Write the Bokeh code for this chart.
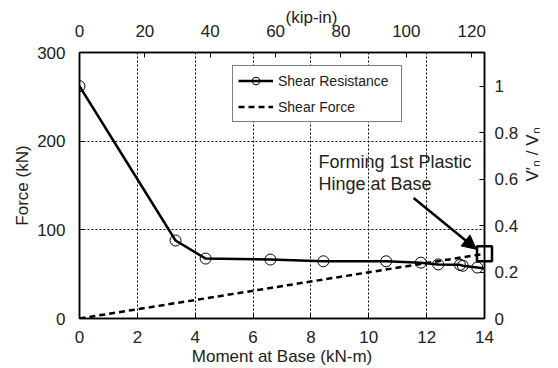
import math
from bokeh.plotting import figure
from bokeh.models import (Range1d, LinearAxis, FixedTicker, Legend, LegendItem,
                          Label, Arrow, NormalHead)
from bokeh.core.properties import value
from bokeh.embed import file_html
from bokeh.resources import INLINE

# ---- data ----
res_moment = [0.0, 3.32, 4.36, 6.6, 8.43, 10.6, 11.8, 12.4, 13.15, 13.25, 13.75]
res_force = [262.0, 88.0, 67.6, 66.5, 64.5, 64.5, 63.0, 61.0, 60.5, 59.5, 57.5]
res_line_end_m = [14.0]
res_line_end_f = [56.5]
shear_moment = [0.0, 14.0]
shear_force = [0.0, 73.0]
hinge_moment = [14.0]
hinge_force = [73.0]
x_ticks = [0, 2, 4, 6, 8, 10, 12, 14]
y_ticks = [0, 100, 200, 300]
right_ticks = [0, 0.2, 0.4, 0.6, 0.8, 1.0]
top_ticks = [0, 20, 40, 60, 80, 100, 120]
Vn = 262.0
KNM_TO_KIPIN = 8.8507

FONT = "Liberation Sans"
FS = "17px"
TXT = "#222222"

p = figure(width=558, height=368, output_backend="svg", toolbar_location=None,
           x_range=Range1d(0, 14), y_range=Range1d(0, 300),
           min_border_left=79, min_border_right=74, min_border_top=52, min_border_bottom=50)
p.extra_x_ranges = {"top": Range1d(0, 14 * KNM_TO_KIPIN)}
p.extra_y_ranges = {"right": Range1d(0, 300 / Vn)}

p.background_fill_color = "white"
p.border_fill_color = "white"
p.outline_line_color = "black"
p.outline_line_width = 1.5

def style(ax):
    ax.axis_line_color = "black"
    ax.axis_line_width = 1.5
    ax.major_tick_in = 5
    ax.major_tick_out = 0
    ax.minor_tick_line_color = None
    ax.major_label_text_font = FONT
    ax.major_label_text_font_size = FS
    ax.major_label_text_color = TXT
    ax.axis_label_text_font = FONT
    ax.axis_label_text_font_size = FS
    ax.axis_label_text_font_style = "normal"
    ax.axis_label_text_color = TXT

p.xaxis.ticker = FixedTicker(ticks=x_ticks)
p.yaxis.ticker = FixedTicker(ticks=y_ticks)
p.xaxis.axis_label = "Moment at Base (kN-m)"
p.yaxis.axis_label = "Force (kN)"
style(p.xaxis[0])
style(p.yaxis[0])
p.xaxis.major_label_standoff = 12
p.xaxis.axis_label_standoff = 1
p.yaxis.major_label_standoff = 14
p.yaxis.axis_label_standoff = 2

top = LinearAxis(x_range_name="top", ticker=FixedTicker(ticks=top_ticks))
style(top)
top.major_label_standoff = 16
p.add_layout(top, "above")

right = LinearAxis(y_range_name="right", ticker=FixedTicker(ticks=right_ticks))
style(right)
right.major_label_standoff = 10
p.add_layout(right, "right")

# axis titles for the top and right axes (drawn as text so they sit where the original has them)
p.text(x=[8.02], y=[339.3], text=["(kip-in)"], text_align="center", text_baseline="middle",
       text_font=value(FONT), text_font_size=FS, text_color=TXT, level="overlay")
p.text(x=[15.66], y=[185.0], text=["V\u2032\u2099 / V\u2099"], angle=math.pi / 2,
       text_align="center", text_baseline="middle",
       text_font=value(FONT), text_font_size=FS, text_color=TXT, level="overlay")

p.xgrid.ticker = FixedTicker(ticks=x_ticks)
p.ygrid.ticker = FixedTicker(ticks=y_ticks)
for g in (p.xgrid[0], p.ygrid[0]):
    g.grid_line_color = "black"
    g.grid_line_dash = "2 2"
    g.grid_line_width = 1

# series
r_line = p.line(res_moment + res_line_end_m, res_force + res_line_end_f,
                line_color="black", line_width=2.5)
r_pts = p.scatter(res_moment, res_force, marker="circle", size=11,
                  fill_color=None, line_color="black", line_width=1)
s_line = p.line(shear_moment, shear_force, line_color="black", line_width=2.5,
                line_dash="6 4")
p.scatter(hinge_moment, hinge_force, marker="square", size=15,
          fill_color=None, line_color="black", line_width=2.5, level="overlay")

legend = Legend(items=[LegendItem(label="Shear Resistance", renderers=[r_line, r_pts]),
                       LegendItem(label="Shear Force", renderers=[s_line])],
                location=(153, 196), border_line_color="black", border_line_width=1.5,
                label_text_font=FONT, label_text_font_size="14px",
                label_text_color=TXT, label_width=118,
                glyph_width=35, glyph_height=19, spacing=7, padding=5, margin=0,
                label_standoff=5, background_fill_alpha=1)
p.add_layout(legend, "center")

p.add_layout(Label(x=8.26, y=177.0, text="Forming 1st Plastic", text_font=FONT,
                   text_font_size="18px", text_color=TXT, text_baseline="middle"))
p.add_layout(Label(x=8.26, y=152.0, text="Hinge at Base", text_font=FONT,
                   text_font_size="18px", text_color=TXT, text_baseline="middle"))
p.add_layout(Arrow(x_start=11.55, y_start=136.0, x_end=13.72, y_end=78.0,
                   line_color="black", line_width=2.5,
                   end=NormalHead(size=14, fill_color="black", line_color="black")))

open("out.html", "w").write(file_html(p, INLINE))
